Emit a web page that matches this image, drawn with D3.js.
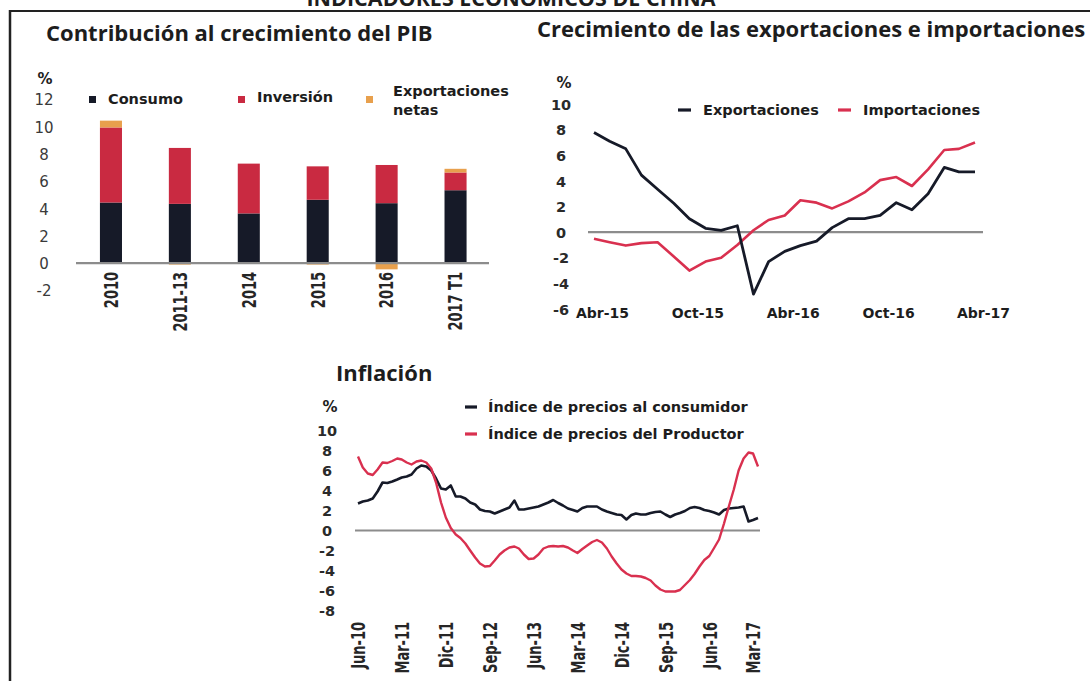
<!DOCTYPE html>
<html>
<head>
<meta charset="utf-8">
<script src="https://cdn.jsdelivr.net/npm/d3@7"></script>
<style>
  html, body { margin: 0; padding: 0; background: #fff; }
  svg { display: block; }
</style>
</head>
<body>
<svg id="chart" width="1090" height="681"></svg>
<script>
// ---- datos ----
const pibCategorias = ['2010', '2011-13', '2014', '2015', '2016', '2017 T1'];
const pibConsumo = [4.45, 4.35, 3.65, 4.65, 4.4, 5.35];
const pibInversion = [5.5, 4.1, 3.65, 2.45, 2.8, 1.3];
const pibExportNetas = [0.5, -0.1, 0.0, -0.1, -0.45, 0.27];
const pibTicks = [-2, 0, 2, 4, 6, 8, 10, 12];

// mensual, abr-15 a abr-17
const exportaciones = [7.77, 7.1, 6.5, 4.45, 3.35, 2.25, 1.05, 0.3, 0.13, 0.5, -4.84, -2.3, -1.5,
  -1.05, -0.7, 0.35, 1.05, 1.05, 1.3, 2.3, 1.75, 3.0, 5.05, 4.7, 4.7];
const importaciones = [-0.52, -0.79, -1.05, -0.86, -0.79, -1.9, -3.0, -2.3, -2.0, -1.0, 0.15, 0.95, 1.3,
  2.49, 2.3, 1.85, 2.4, 3.1, 4.06, 4.3, 3.6, 4.9, 6.41, 6.5, 6.99];
const comercioTicks = [-6, -4, -2, 0, 2, 4, 6, 8, 10];
const comercioEtiquetas = ['Abr-15', 'Oct-15', 'Abr-16', 'Oct-16', 'Abr-17'];

// mensual, jun-10 a abr-17
const ipc = [2.7, 2.9, 3.0, 3.2, 3.9, 4.8, 4.75, 4.9, 5.1, 5.3,
  5.4, 5.6, 6.2, 6.5, 6.4, 6.0, 5.2, 4.2, 4.1, 4.5,
  3.4, 3.4, 3.2, 2.8, 2.6, 2.1, 1.95, 1.9, 1.7, 1.9,
  2.1, 2.3, 3.0, 2.1, 2.1, 2.2, 2.3, 2.4, 2.6, 2.8,
  3.05, 2.75, 2.5, 2.2, 2.05, 1.9, 2.25, 2.4, 2.4, 2.4,
  2.1, 1.9, 1.75, 1.6, 1.55, 1.1, 1.55, 1.7, 1.6, 1.6,
  1.75, 1.85, 1.9, 1.6, 1.35, 1.6, 1.75, 1.95, 2.25, 2.35,
  2.25, 2.05, 1.95, 1.8, 1.6, 2.05, 2.2, 2.25, 2.3, 2.4,
  0.9, 1.05, 1.25];
const ipp = [7.4, 6.3, 5.7, 5.55, 6.1, 6.8, 6.75, 6.95, 7.2, 7.1,
  6.8, 6.6, 6.9, 7.0, 6.8, 6.2, 4.8, 2.8, 1.3, 0.25,
  -0.4, -0.75, -1.3, -2.0, -2.7, -3.3, -3.6, -3.55, -3.0, -2.4,
  -2.0, -1.7, -1.6, -1.8, -2.4, -2.85, -2.8, -2.4, -1.8, -1.6,
  -1.55, -1.6, -1.55, -1.7, -2.0, -2.25, -1.85, -1.5, -1.15, -0.95,
  -1.2, -1.8, -2.6, -3.3, -3.9, -4.3, -4.55, -4.55, -4.6, -4.75,
  -5.0, -5.5, -5.9, -6.1, -6.1, -6.1, -5.95, -5.45, -4.95, -4.35,
  -3.6, -2.95, -2.55, -1.75, -0.9, 0.7, 2.4, 4.1, 6.0, 7.2,
  7.8, 7.7, 6.4];
const inflacionTicks = [-8, -6, -4, -2, 0, 2, 4, 6, 8, 10];
const inflacionEtiquetas = ['Jun-10', 'Mar-11', 'Dic-11', 'Sep-12', 'Jun-13', 'Mar-14', 'Dic-14', 'Sep-15', 'Jun-16', 'Mar-17'];

// ---- estilos ----
const NAVY = '#161a28';
const RED_BAR = '#c92a41';
const RED_LINE = '#d9304f';
const ORANGE = '#e8a04d';
const ZERO = '#8c8c8c';
const INK = '#1d1d1d';
const TITLE_FONT = "'Open Sans', 'Noto Sans', sans-serif";
const LABEL_FONT = "'DejaVu Sans', Verdana, sans-serif";
const NARROW_FONT = "'DejaVu Sans Condensed', 'DejaVu Sans', sans-serif";

const svg = d3.select('#chart');

// marco y titulo superior (recortado como en el original)
svg.append('line')
  .attr('x1', 9).attr('x2', 1090).attr('y1', 11).attr('y2', 11)
  .attr('stroke', '#222').attr('stroke-width', 2);
svg.append('line')
  .attr('x1', 10).attr('x2', 10).attr('y1', 10).attr('y2', 681)
  .attr('stroke', '#222').attr('stroke-width', 2.5);
svg.append('text')
  .attr('x', 511).attr('y', 6)
  .attr('text-anchor', 'middle')
  .style('font-family', TITLE_FONT).style('font-weight', 700).style('font-size', '21.5px')
  .style('fill', INK)
  .text('INDICADORES ECONÓMICOS DE CHINA');

function title(x, y, txt) {
  svg.append('text')
    .attr('x', x).attr('y', y)
    .style('font-family', TITLE_FONT).style('font-weight', 700).style('font-size', '22px')
    .style('fill', INK)
    .text(txt);
}

function yAxis(scale, ticks, x, bold) {
  const g = svg.append('g')
    .attr('transform', `translate(${x},0)`)
    .call(d3.axisLeft(scale).tickValues(ticks).tickFormat(d => String(d)).tickSize(0).tickPadding(0));
  g.select('.domain').remove();
  g.selectAll('text')
    .attr('x', 0).attr('dy', '0.36em')
    .attr('text-anchor', 'middle')
    .style('font-family', LABEL_FONT)
    .style('font-size', bold ? '14.5px' : '15px')
    .style('font-weight', bold ? 700 : 400)
    .style('fill', bold ? '#2a2a2a' : '#3a3a3a');
  return g;
}

function percent(x, y) {
  svg.append('text')
    .attr('x', x).attr('y', y)
    .attr('text-anchor', 'middle')
    .style('font-family', LABEL_FONT).style('font-weight', 700).style('font-size', '15px')
    .style('fill', INK)
    .text('%');
}

function rotatedAxis(scale, y, opts) {
  let axis = d3.axisBottom(scale).tickSize(0);
  if (opts && opts.values) axis = axis.tickValues(opts.values).tickFormat((d, i) => opts.labels[i]);
  const g = svg.append('g')
    .attr('transform', `translate(0,${y})`)
    .call(axis);
  g.select('.domain').remove();
  g.selectAll('text')
    .attr('transform', 'rotate(-90) scale(0.76,1)')
    .attr('text-anchor', 'end')
    .attr('x', 0).attr('y', 0).attr('dy', '0.36em')
    .style('font-family', NARROW_FONT).style('font-weight', 700).style('font-size', '19px')
    .style('fill', '#262626');
  return g;
}

function legendText(x, y, txt) {
  svg.append('text')
    .attr('x', x).attr('y', y)
    .style('font-family', LABEL_FONT).style('font-weight', 700).style('font-size', '14.5px')
    .style('fill', INK)
    .text(txt);
}

function zeroLine(x0, x1, y) {
  svg.append('line')
    .attr('x1', x0).attr('x2', x1).attr('y1', y).attr('y2', y)
    .attr('stroke', ZERO).attr('stroke-width', 2.2);
}

// ================= Contribución al crecimiento del PIB =================
title(46, 41, 'Contribución al crecimiento del PIB');

const x1 = d3.scaleBand().domain(pibCategorias).range([76.5, 490]).paddingInner(0.68).paddingOuter(0.34);
const y1 = d3.scaleLinear().domain([-2, 12]).range([290.5, 99.5]);

const pibSegmentos = pibCategorias.flatMap((c, i) => {
  const cons = pibConsumo[i], inv = pibInversion[i], net = pibExportNetas[i];
  return [
    { c, a: 0, b: cons, color: NAVY },
    { c, a: cons, b: cons + inv, color: RED_BAR },
    net >= 0 ? { c, a: cons + inv, b: cons + inv + net, color: ORANGE } : { c, a: net, b: 0, color: ORANGE }
  ];
});

svg.append('g').selectAll('rect')
  .data(pibSegmentos)
  .join('rect')
  .attr('x', d => x1(d.c))
  .attr('width', x1.bandwidth())
  .attr('y', d => y1(Math.max(d.a, d.b)))
  .attr('height', d => Math.abs(y1(d.a) - y1(d.b)))
  .attr('fill', d => d.color);

zeroLine(76, 489, y1(0));
yAxis(y1, pibTicks, 44, false);
percent(45, 84);
rotatedAxis(x1, 272);

// leyenda
const pibLeyenda = [
  { x: 89, color: NAVY, label: ['Consumo'], ty: [104] },
  { x: 238, color: RED_BAR, label: ['Inversión'], ty: [102] },
  { x: 366, color: ORANGE, label: ['Exportaciones', 'netas'], ty: [96, 115] }
];
pibLeyenda.forEach(d => {
  svg.append('rect').attr('x', d.x).attr('y', 96).attr('width', 7).attr('height', 7).attr('fill', d.color);
  d.label.forEach((t, i) => legendText(d.x + (d.label.length > 1 ? 27 : 19), d.ty[i], t));
});

// ================= Crecimiento de las exportaciones e importaciones =================
title(537, 37, 'Crecimiento de las exportaciones e importaciones');

const mesesComercio = exportaciones.map((_, i) => d3.timeMonth.offset(new Date(2015, 3, 1), i));
const x2 = d3.scaleTime().domain(d3.extent(mesesComercio)).range([594, 975]);
const y2 = d3.scaleLinear().domain([-6, 10]).range([309, 104]);

zeroLine(588, 983, y2(0));
yAxis(y2, comercioTicks, 561, true);
percent(564, 88);

const x2Ticks = [0, 6, 12, 18, 24].map(i => mesesComercio[i]);
const gx2 = svg.append('g')
  .attr('transform', 'translate(8,318)')
  .call(d3.axisBottom(x2).tickValues(x2Ticks).tickFormat((d, i) => comercioEtiquetas[i]).tickSize(0));
gx2.select('.domain').remove();
gx2.selectAll('text')
  .attr('y', 0).attr('dy', 0)
  .style('font-family', LABEL_FONT).style('font-weight', 700).style('font-size', '14px')
  .style('fill', INK);

const line2 = (vals) => d3.line()
  .x((d, i) => x2(mesesComercio[i]))
  .y(d => y2(d))(vals);

svg.append('path').attr('d', line2(importaciones))
  .attr('fill', 'none').attr('stroke', RED_LINE).attr('stroke-width', 2.6).attr('stroke-linejoin', 'round');
svg.append('path').attr('d', line2(exportaciones))
  .attr('fill', 'none').attr('stroke', NAVY).attr('stroke-width', 2.8).attr('stroke-linejoin', 'round');

[{ x: 678, color: NAVY, label: 'Exportaciones' }, { x: 838, color: RED_LINE, label: 'Importaciones' }]
  .forEach(d => {
    svg.append('line').attr('x1', d.x).attr('x2', d.x + 13).attr('y1', 110).attr('y2', 110)
      .attr('stroke', d.color).attr('stroke-width', 3.2);
    legendText(d.x + 25, 115, d.label);
  });

// ================= Inflación =================
title(336, 381, 'Inflación');

const mesesInflacion = ipc.map((_, i) => d3.timeMonth.offset(new Date(2010, 5, 1), i));
const x3 = d3.scaleTime().domain(d3.extent(mesesInflacion)).range([358, 758]);
const y3 = d3.scaleLinear().domain([-8, 10]).range([610.5, 430.5]);

zeroLine(355, 760, y3(0));
yAxis(y3, inflacionTicks, 327, true);
percent(330, 412);
rotatedAxis(x3, 622, {
  values: d3.range(0, 82, 9).map(i => mesesInflacion[i]),
  labels: inflacionEtiquetas
});

const line3 = (vals) => d3.line()
  .x((d, i) => x3(mesesInflacion[i]))
  .y(d => y3(d))(vals);

svg.append('path').attr('d', line3(ipc))
  .attr('fill', 'none').attr('stroke', NAVY).attr('stroke-width', 2.6).attr('stroke-linejoin', 'round');
svg.append('path').attr('d', line3(ipp))
  .attr('fill', 'none').attr('stroke', RED_LINE).attr('stroke-width', 2.4).attr('stroke-linejoin', 'round');

[{ y: 407, color: NAVY, label: 'Índice de precios al consumidor' },
 { y: 434, color: RED_LINE, label: 'Índice de precios del Productor' }]
  .forEach(d => {
    svg.append('line').attr('x1', 465).attr('x2', 477).attr('y1', d.y).attr('y2', d.y)
      .attr('stroke', d.color).attr('stroke-width', 3.2);
    legendText(488, d.y + 5, d.label);
  });
</script>
</body>
</html>
